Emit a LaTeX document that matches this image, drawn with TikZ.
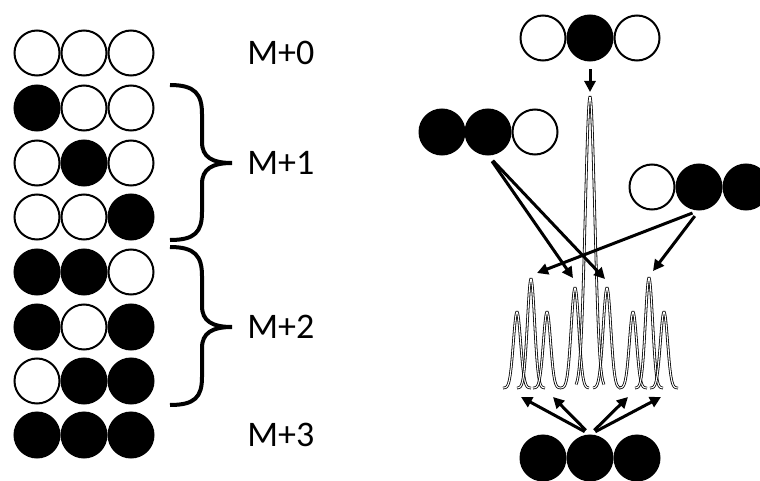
\documentclass[tikz,border=0pt]{standalone}
\usepackage{fontspec}
\setmainfont{Carlito}
\usetikzlibrary{arrows.meta}
\begin{document}
\begin{tikzpicture}[x=0.5pt,y=-0.5pt,
  atom/.style={circle,draw=black,line width=1pt,minimum size=22.5pt,inner sep=0pt},
  lbl/.style={font=\fontsize{18}{20}\selectfont,anchor=west,inner sep=0pt},
  brace/.style={line width=2pt},
  arr/.style={line width=1.5pt,-{Triangle[length=5.5pt,width=5.5pt]}},
  peak/.style={line width=0.4pt,double=white,double distance=0.55pt}]
\useasboundingbox[fill=white] (0,0) rectangle (760,481);
% left column of isotopologues
\foreach \y/\a/\b/\c [count=\i] in {53/white/white/white,108/black/white/white,163/white/black/white,217/white/white/black,272/black/black/white,327/black/white/black,381/white/black/black,435/black/black/black}{
  \node[atom,fill=\a] (L\i a) at (37,\y) {};
  \node[atom,fill=\b] (L\i b) at (84,\y) {};
  \node[atom,fill=\c] (L\i c) at (131,\y) {};
}
% labels
\node[lbl] (m0) at (247,53) {M+0};
\node[lbl] (m1) at (247,163) {M+1};
\node[lbl] (m2) at (247,327) {M+2};
\node[lbl] (m3) at (247,435) {M+3};
% braces
\draw[brace] (170,85) .. controls (195,85) and (202,94) .. (202,114) -- (202,142)
  .. controls (202,157) and (212,163) .. (232,163)
  .. controls (212,163) and (202,169) .. (202,184) -- (202,212)
  .. controls (202,232) and (195,240) .. (170,240);
\draw[brace] (170,247) .. controls (195,247) and (202,256) .. (202,276) -- (202,306)
  .. controls (202,321) and (212,327) .. (232,327)
  .. controls (212,327) and (202,333) .. (202,348) -- (202,377)
  .. controls (202,397) and (195,405) .. (170,405);
% right side groups
\node[atom,fill=white] (t1) at (543,38) {};
\node[atom,fill=black] (t2) at (590,38) {};
\node[atom,fill=white] (t3) at (637,38) {};
\node[atom,fill=black] (l1) at (442,132) {};
\node[atom,fill=black] (l2) at (488,132) {};
\node[atom,fill=white] (l3) at (535,132) {};
\node[atom,fill=white] (r1) at (652,187) {};
\node[atom,fill=black] (r2) at (699,187) {};
\node[atom,fill=black] (r3) at (746,187) {};
\node[atom,fill=black] (b1) at (543,458) {};
\node[atom,fill=black] (b2) at (590,458) {};
\node[atom,fill=black] (b3) at (637,458) {};
% spectrum peaks
\foreach \c/\h/\s in {517/76/3.6,531/109/3.6,547/76/3.6,575/100/3.8,607/100/3.8,633/76/3.6,649/110/3.6,664/76/3.6,590/291/4.7}{
  \draw[peak] plot[domain=\c-14:\c+14,samples=60,smooth] (\x,{388-\h*exp(-((\x-\c)*(\x-\c))/(2*\s*\s))});
}
% arrow targets
\coordinate (p0) at (590,92);
\coordinate (p1) at (573,278);
\coordinate (p2) at (605,279);
\coordinate (p3) at (537,273);
\coordinate (p4) at (653,271);
\coordinate (q1) at (521,397);
\coordinate (q2) at (553,397);
\coordinate (q3) at (628,397);
\coordinate (q4) at (661,397);
% arrows
\draw[arr,shorten <=4pt] (t2.south) -- (p0);
\draw[arr,shorten <=3.5pt] (l2.south) -- (p1);
\draw[arr,shorten <=3.5pt] (l2.south) -- (p2);
\draw[arr,shorten <=3.5pt] (r2.south) -- (p3);
\draw[arr,shorten <=3.5pt] (r2.south) -- (p4);
\foreach \q in {q1,q2,q3,q4}{
  \draw[arr,shorten <=3pt] (b2.north) -- (\q);
}
\end{tikzpicture}
\end{document}
